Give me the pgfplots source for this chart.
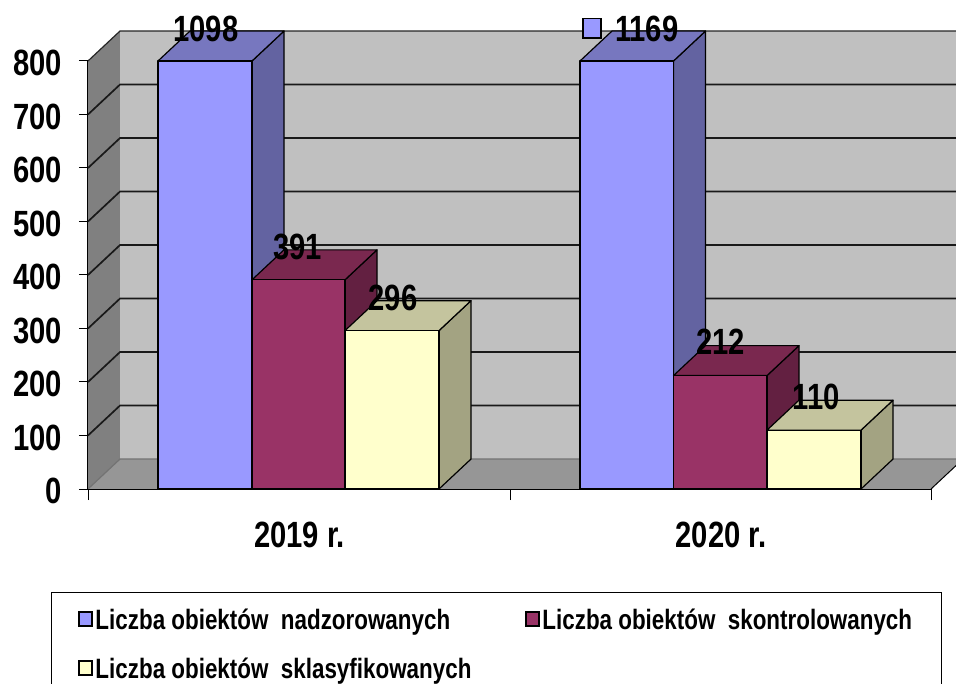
\documentclass[border=0pt]{standalone}
\usepackage{fontspec}
\setmainfont[FakeStretch=0.8]{Liberation Sans}
\usepackage{pgfplots}
\pgfplotsset{compat=1.18}
\definecolor{wall}{HTML}{C0C0C0}
\definecolor{lwall}{HTML}{808080}
\definecolor{floorc}{HTML}{969696}
\definecolor{bF}{HTML}{9999FF}\definecolor{bT}{HTML}{7777BF}\definecolor{bS}{HTML}{6363A1}
\definecolor{mF}{HTML}{993366}\definecolor{mT}{HTML}{7A284F}\definecolor{mS}{HTML}{632041}
\definecolor{yF}{HTML}{FFFFCC}\definecolor{yT}{HTML}{C4C49E}\definecolor{yS}{HTML}{A3A382}
\pgfplotsset{
  grl/.style={black!90,line width=1.7pt,forget plot},
  face/.style={fill=#1,draw=black,line width=1.2pt,line join=round,forget plot},
}
\newcommand{\bigf}{\bfseries\fontsize{36.5}{36.5}\selectfont}
\begin{document}
\begin{tikzpicture}
\path[clip,use as bounding box] (0,0) rectangle (956pt,683pt);
\begin{axis}[
  at={(88pt,194pt)},anchor=south west,
  x=1pt,y=0.535pt,
  xmin=88,xmax=931,ymin=0,ymax=800,
  clip=false,axis on top,
  axis lines=left,
  axis line style={-,black,line width=1pt},
  /pgf/number format/assume math mode=true,
  ytick={0,100,200,300,400,500,600,700,800},
  ytick style={black,line width=1pt},
  major tick length=9pt,
  tick align=outside,
  yticklabel style={font=\bigf,inner xsep=0pt,xshift=-17pt,yshift=-2pt},
  xtick={299.5,721},
  xticklabels={2019 r.,2020 r.},
  major x tick style={draw=none},
  minor xtick={88,510,931},
  minor tick length=11pt,
  minor x tick style={black,line width=0.8pt},
  xticklabel style={font=\bigf,inner ysep=0pt,yshift=-24pt},
  legend image code/.code={\draw[#1] (0pt,-6pt) rectangle (13pt,8pt);},
  legend columns=2,
  legend cell align=left,
  legend style={at={(axis cs:51,-192.5)},anchor=north west,draw=black,line width=1pt,
    font=\bfseries\fontsize{28}{28}\selectfont,
    inner xsep=27pt,inner ysep=14pt,
    row sep=23pt,column sep=0pt,
    /tikz/column 2/.style={column sep=52pt}},
]
% legend keys
\addlegendimage{fill=bF,draw=black,line width=2pt}
\addlegendentry{Liczba obiektów\ \ nadzorowanych}
\addlegendimage{fill=mF,draw=black,line width=2pt}
\addlegendentry{Liczba obiektów\ \ skontrolowanych}
\addlegendimage{fill=yF,draw=black,line width=2pt}
\addlegendentry{Liczba obiektów\ \ sklasyfikowanych}
% walls and floor
\addplot[fill=wall,draw=none,forget plot] coordinates {(120,56)(963,56)(963,856)(120,856)} -- cycle;
\addplot[fill=lwall,draw=none,forget plot] coordinates {(88,0)(120,56)(120,856)(88,800)} -- cycle;
\addplot[fill=floorc,draw=none,forget plot] coordinates {(88,0)(931,0)(963,56)(120,56)} -- cycle;
% gridlines
\addplot[grl] coordinates {(88,100)(120,156)(963,156)};
\addplot[grl] coordinates {(88,200)(120,256)(963,256)};
\addplot[grl] coordinates {(88,300)(120,356)(963,356)};
\addplot[grl] coordinates {(88,400)(120,456)(963,456)};
\addplot[grl] coordinates {(88,500)(120,556)(963,556)};
\addplot[grl] coordinates {(88,600)(120,656)(963,656)};
\addplot[grl] coordinates {(88,700)(120,756)(963,756)};
\addplot[black!85,line width=1.2pt,forget plot] coordinates {(88,800)(120,856)(963,856)};
\addplot[black!55,line width=1.2pt,forget plot] coordinates {(88,0)(120,56)(963,56)};
\addplot[black,line width=1pt,forget plot] coordinates {(931,0)(963,56)};
% 2019
\addplot[face=bS] coordinates {(252,0)(284,56)(284,856)(252,800)} -- cycle;
\addplot[face=bT] coordinates {(158,800)(190,856)(284,856)(252,800)} -- cycle;
\addplot[face=bF] coordinates {(158,0)(158,800)(252,800)(252,0)} -- cycle;
\addplot[face=mS] coordinates {(345,0)(377,56)(377,447)(345,391)} -- cycle;
\addplot[face=mT] coordinates {(252,391)(284,447)(377,447)(345,391)} -- cycle;
\addplot[face=mF] coordinates {(252,0)(252,391)(345,391)(345,0)} -- cycle;
\addplot[face=yS] coordinates {(439,0)(471,56)(471,352)(439,296)} -- cycle;
\addplot[face=yT] coordinates {(345,296)(377,352)(471,352)(439,296)} -- cycle;
\addplot[face=yF] coordinates {(345,0)(345,296)(439,296)(439,0)} -- cycle;
% 2020
\addplot[face=bS] coordinates {(673.5,0)(705.5,56)(705.5,856)(673.5,800)} -- cycle;
\addplot[face=bT] coordinates {(580,800)(612,856)(705.5,856)(673.5,800)} -- cycle;
\addplot[face=bF] coordinates {(580,0)(580,800)(673.5,800)(673.5,0)} -- cycle;
\addplot[face=mS] coordinates {(767,0)(799,56)(799,268)(767,212)} -- cycle;
\addplot[face=mT] coordinates {(673.5,212)(705.5,268)(799,268)(767,212)} -- cycle;
\addplot[face=mF] coordinates {(673.5,0)(673.5,212)(767,212)(767,0)} -- cycle;
\addplot[face=yS] coordinates {(861,0)(893,56)(893,166)(861,110)} -- cycle;
\addplot[face=yT] coordinates {(767,110)(799,166)(893,166)(861,110)} -- cycle;
\addplot[face=yF] coordinates {(767,0)(767,110)(861,110)(861,0)} -- cycle;
% legend key beside the label 1169
\addplot[only marks,mark=square*,mark size=9pt,mark options={fill=bF,draw=black,line width=1.8pt,yscale=1.1},forget plot] coordinates {(592,861)};
% data labels
\addplot[draw=none,forget plot,point meta=explicit symbolic,
  nodes near coords,
  nodes near coords style={anchor=center,font=\bigf,inner sep=0pt,black}] coordinates {
  (206,860)[1098]
  (297.5,452)[391]
  (393,357)[296]
  (646.7,860)[1169]
  (720.8,275)[212]
  (816,172)[110]
};
\end{axis}
\end{tikzpicture}
\end{document}
